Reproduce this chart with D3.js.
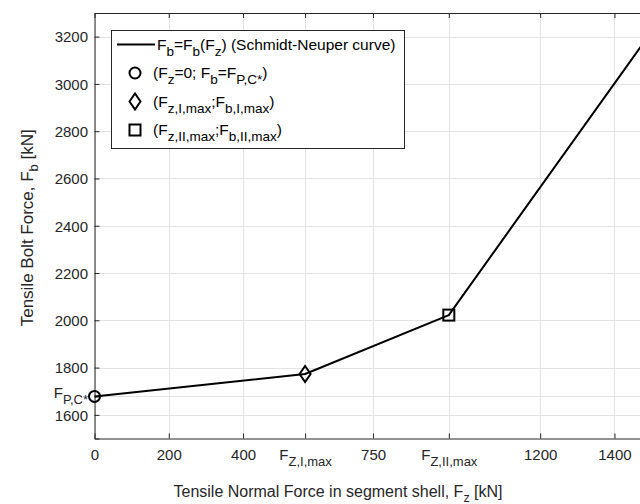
<!DOCTYPE html>
<html><head><meta charset="utf-8">
<script src="https://cdn.jsdelivr.net/npm/d3@7"></script>
<style>
html,body{margin:0;padding:0;background:#fff;}
svg{display:block;font-family:"Liberation Sans",Arial,Helvetica,sans-serif;}
</style></head>
<body>
<svg id="c" width="640" height="504"></svg>
<script>
// ---- data ----
const fz = [0, 567, 954, 1500];
const fb = [1678, 1773, 2022, 3222];
const markerPoints = [
  {type: "circle", i: 0},
  {type: "diamond", i: 1},
  {type: "square", i: 2}
];
const xTickValues = [0, 200, 400, 567, 750, 954, 1200, 1400];
const xTickLabels = ["0", "200", "400", "F_{Z,I,max}", "750", "F_{Z,II,max}", "1200", "1400"];
const yTickValues = [1600, 1678, 1800, 2000, 2200, 2400, 2600, 2800, 3000, 3200];
const yTickLabels = ["1600", "F_{P,C*}", "1800", "2000", "2200", "2400", "2600", "2800", "3000", "3200"];
const legendLabels = [
  "F_{b}=F_{b}(F_{z}) (Schmidt-Neuper curve)",
  "(F_{z}=0; F_{b}=F_{P,C*})",
  "(F_{z,I,max};F_{b,I,max})",
  "(F_{z,II,max};F_{b,II,max})"
];
const xLabel = "Tensile Normal Force in segment shell, F_{z} [kN]";
const yLabel = "Tensile Bolt Force, F_{b} [kN]";

// ---- layout ----
const svg = d3.select("#c");
const L = 94.5, T = 13, B = 438.5;
const x = d3.scaleLinear().domain([0, 1500]).range([L, L + 1500 * 0.3714]);
const y = d3.scaleLinear().domain([1500, 3300]).range([B, T]);
const axisCol = "#262626";
const TICK_FS = 15, TICK_SUB = 13;
const LEG_FS = 15.5, LEG_SUB = 13.5;
const LAB_FS = 16, LAB_SUB = 12.5;

function rich(textSel, s, subSize, dyv) {
  const parts = s.split(/(_\{[^}]*\})/).filter(p => p.length);
  let pending = 0;
  parts.forEach(p => {
    if (p.startsWith("_{")) {
      textSel.append("tspan").attr("font-size", subSize).attr("dy", dyv + pending).text(p.slice(2, -1));
      pending = -dyv;
    } else {
      const ts = textSel.append("tspan").text(p);
      if (pending) ts.attr("dy", pending);
      pending = 0;
    }
  });
}

// grid
const g = svg.append("g");
g.selectAll("line.gx").data(xTickValues).enter().append("line")
  .attr("x1", d => Math.round(x(d)) + 0.5).attr("x2", d => Math.round(x(d)) + 0.5)
  .attr("y1", T).attr("y2", B).attr("stroke", "#e3e3e3").attr("stroke-width", 1);
g.selectAll("line.gy").data(yTickValues).enter().append("line")
  .attr("y1", d => Math.round(y(d)) + 0.5).attr("y2", d => Math.round(y(d)) + 0.5)
  .attr("x1", L).attr("x2", 640).attr("stroke", "#e3e3e3").attr("stroke-width", 1);

// axes
const xAxis = svg.append("g").attr("transform", `translate(0,${B})`)
  .call(d3.axisBottom(x).tickValues(xTickValues).tickSize(-5).tickFormat(() => ""));
const xTop = svg.append("g").attr("transform", `translate(0,${T})`)
  .call(d3.axisTop(x).tickValues(xTickValues).tickSize(-5).tickFormat(() => ""));
const yAxis = svg.append("g").attr("transform", `translate(${L},0)`)
  .call(d3.axisLeft(y).tickValues(yTickValues).tickSize(-5).tickFormat(() => ""));
[xAxis, xTop, yAxis].forEach(a => {
  a.select(".domain").attr("stroke", axisCol);
  a.selectAll(".tick line").attr("stroke", axisCol);
});
xAxis.select(".domain").attr("d", `M${L},0.5H640`);
xTop.select(".domain").attr("d", `M${L},0.5H640`);
xTop.selectAll(".tick text").remove();

xAxis.selectAll(".tick text").each(function(d, i) {
  const t = d3.select(this).text("").attr("fill", axisCol).attr("font-size", TICK_FS)
    .attr("y", 21.5).attr("dy", null).attr("font-family", "Liberation Sans, Arial, sans-serif");
  rich(t, xTickLabels[i], TICK_SUB, 6);
});
yAxis.selectAll(".tick text").each(function(d, i) {
  const t = d3.select(this).text("").attr("fill", axisCol).attr("font-size", TICK_FS)
    .attr("x", -6.5).attr("dy", "0.35em").attr("font-family", "Liberation Sans, Arial, sans-serif");
  if (yTickLabels[i].includes("_")) t.attr("dy", "0.1em");
  rich(t, yTickLabels[i], TICK_SUB, 5.5);
});

// line
const line = d3.line().x((d, i) => x(fz[i])).y((d, i) => y(fb[i]));
svg.append("path").datum(fz).attr("d", line).attr("fill", "none")
  .attr("stroke", "#000").attr("stroke-width", 2).attr("stroke-linejoin", "round");

// markers
function drawMarker(sel, type, cx, cy) {
  if (type === "circle") {
    sel.append("circle").attr("cx", cx).attr("cy", cy).attr("r", 5.5);
  } else if (type === "diamond") {
    sel.append("path").attr("d", `M${cx},${cy-8}L${cx+5.5},${cy}L${cx},${cy+8}L${cx-5.5},${cy}Z`);
  } else {
    sel.append("rect").attr("x", cx - 5.5).attr("y", cy - 5.5).attr("width", 11).attr("height", 11);
  }
}
const mg = svg.append("g").attr("fill", "none").attr("stroke", "#000").attr("stroke-width", 2);
markerPoints.forEach(m => drawMarker(mg, m.type, x(fz[m.i]), y(fb[m.i])));

// legend
const lg = svg.append("g");
lg.append("rect").attr("x", 111.5).attr("y", 30.5).attr("width", 293).attr("height", 118)
  .attr("fill", "#fff").attr("stroke", "#262626").attr("stroke-width", 1);
const rowY = [44.5, 73, 101.5, 130];
lg.append("line").attr("x1", 117).attr("x2", 155).attr("y1", rowY[0]).attr("y2", rowY[0])
  .attr("stroke", "#000").attr("stroke-width", 2);
const lm = lg.append("g").attr("fill", "none").attr("stroke", "#000").attr("stroke-width", 2);
markerPoints.forEach((m, k) => drawMarker(lm, m.type, 135, rowY[k + 1]));
legendLabels.forEach((s, k) => {
  const t = lg.append("text").attr("x", k === 0 ? 157 : 153).attr("y", rowY[k] + 5)
    .attr("font-size", LEG_FS).attr("fill", "#000");
  rich(t, s, LEG_SUB, 6);
});

// axis labels
const xl = svg.append("text").attr("x", 338).attr("y", 497)
  .attr("text-anchor", "middle").attr("font-size", LAB_FS).attr("fill", axisCol);
rich(xl, xLabel, LAB_SUB, 4.5);
const yl = svg.append("text").attr("transform", `translate(33,${(T + B) / 2 + 2}) rotate(-90)`)
  .attr("text-anchor", "middle").attr("font-size", 17).attr("fill", axisCol);
rich(yl, yLabel, 13, 4.5);
</script>
</body></html>
